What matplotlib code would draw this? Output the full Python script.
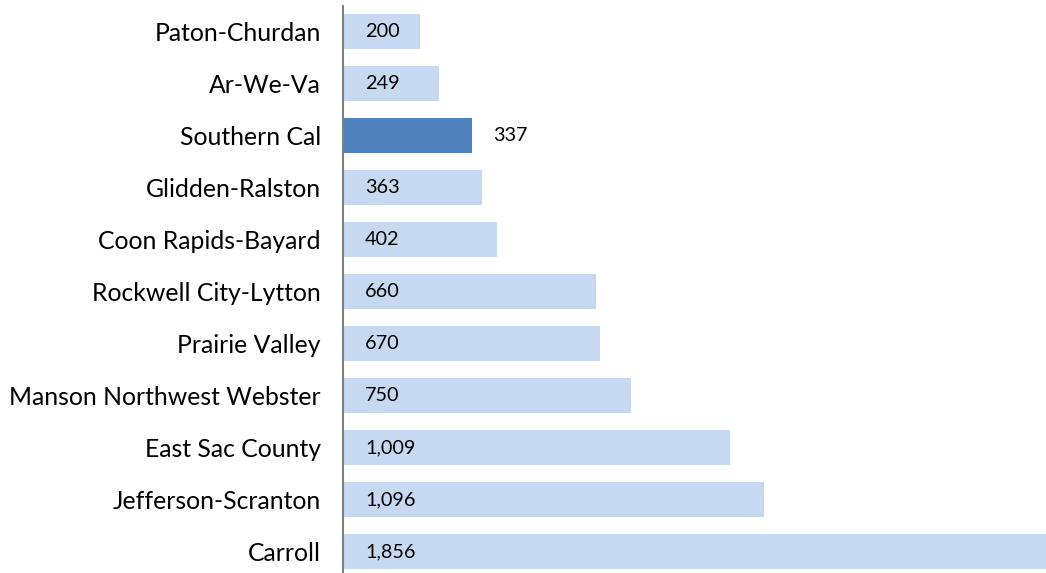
import matplotlib
matplotlib.use("Agg")
import matplotlib.pyplot as plt
from matplotlib.transforms import offset_copy

categories = ["Paton-Churdan", "Ar-We-Va", "Southern Cal", "Glidden-Ralston",
              "Coon Rapids-Bayard", "Rockwell City-Lytton", "Prairie Valley",
              "Manson Northwest Webster", "East Sac County", "Jefferson-Scranton", "Carroll"]
values = [200, 249, 337, 363, 402, 660, 670, 750, 1009, 1096, 1856]
highlight = "Southern Cal"

plt.rcParams['font.family'] = ['Lato', 'DejaVu Sans']

W, H = 1046, 573
fig = plt.figure(figsize=(W / 100, H / 100), dpi=100)
top_px, bot_px = 5.5, 577.5
ax = fig.add_axes([343 / W, (H - bot_px) / H, 703 / W, (bot_px - top_px) / H])

n = len(categories)
ypos = list(range(n))
colors = ["#4F81BD" if c == highlight else "#C6D9F1" for c in categories]
ax.barh(ypos, values, height=0.66, color=colors, zorder=2, clip_on=True)
ax.set_ylim(n - 0.5, -0.5)
ax.set_xlim(0, 1831)
ax.set_yticks(ypos)
ax.set_yticklabels(categories, fontsize=17.8, color="#000000")
ax.tick_params(axis='y', length=0, pad=16)
ax.set_xticks([])
for s in ["top", "right", "bottom"]:
    ax.spines[s].set_visible(False)
ax.spines["left"].set_color("#808080")
ax.spines["left"].set_linewidth(1.5)
ax.spines["left"].set_zorder(3)

for y, v, c in zip(ypos, values, categories):
    label = f"{v:,}"
    if c == highlight:
        tr = offset_copy(ax.transData, fig=fig, x=21, y=0, units='dots')
        ax.text(v, y, label, transform=tr, va='center', ha='left', fontsize=14.3, color="#000000")
    else:
        tr = offset_copy(ax.transData, fig=fig, x=22, y=0, units='dots')
        ax.text(0, y, label, transform=tr, va='center', ha='left', fontsize=14.3, color="#000000")

fig.savefig("out.png", dpi=100)
